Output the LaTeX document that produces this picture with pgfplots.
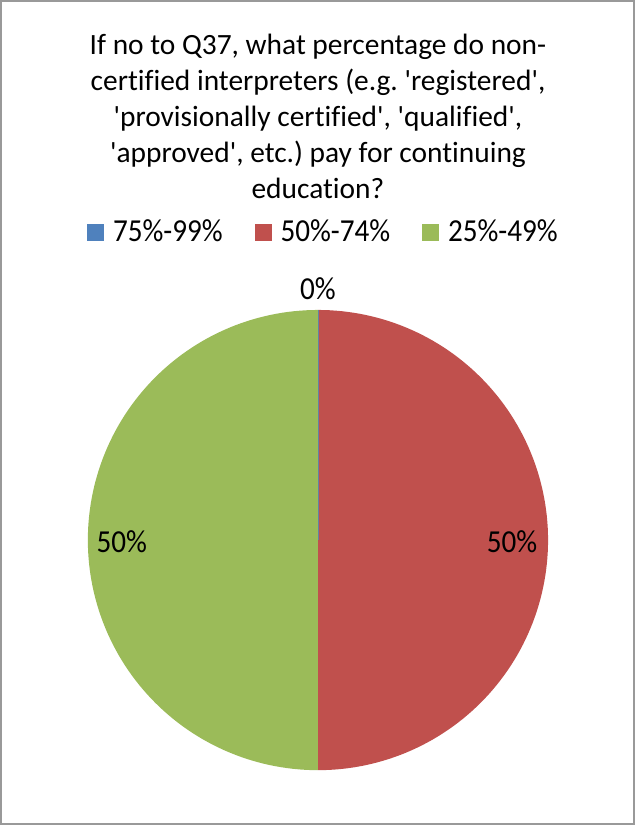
\documentclass[border=0pt]{standalone}
\usepackage{pgfplots}
\usepackage{pgfplotstable}
\usepackage{fontspec}
\setmainfont{Carlito}[FakeStretch=0.91]
\newfontfamily\titlefont{Carlito}[Ligatures={NoCommon}]
\frenchspacing
\pgfplotsset{compat=1.18}
\definecolor{sBlue}{HTML}{4F81BD}
\definecolor{sRed}{HTML}{C0504D}
\definecolor{sGreen}{HTML}{9BBB59}
\newcommand{\q}{\textquotesingle}
\pgfplotstableread{
idx value
0 0
1 50
2 50
}\piedata
\begin{document}
\begin{tikzpicture}
\pgfplotstablegetelem{0}{value}\of\piedata \let\vA\pgfplotsretval
\pgfplotstablegetelem{1}{value}\of\piedata \let\vB\pgfplotsretval
\pgfplotstablegetelem{2}{value}\of\piedata \let\vC\pgfplotsretval
\pgfmathsetmacro{\tot}{\vA+\vB+\vC}
\pgfmathsetmacro{\aA}{0}
\pgfmathsetmacro{\aB}{\aA+\vA/\tot*360}
\pgfmathsetmacro{\aC}{\aB+\vB/\tot*360}
\pgfmathsetmacro{\aD}{\aC+\vC/\tot*360}
\begin{axis}[
  scale only axis, width=317.5pt, height=412.5pt,
  xmin=0, xmax=635, ymin=0, ymax=825, y dir=reverse,
  hide axis, clip=false,
  legend columns=3,
  legend style={at={(axis cs:322.5,232)}, anchor=center, draw=none, fill=none,
    font=\fontsize{16}{18}\selectfont,
    nodes={inner xsep=0pt, inner ysep=1pt},
    /tikz/every odd column/.append style={column sep=4.5pt},
    /tikz/every even column/.append style={column sep=16pt},
    inner sep=0pt},
  legend image code/.code={\fill[#1] (0pt,-4pt) rectangle (8pt,4pt);},
]
\addlegendimage{sBlue}\addlegendentry{75\%-99\%}
\addlegendimage{sRed}\addlegendentry{50\%-74\%}
\addlegendimage{sGreen}\addlegendentry{25\%-49\%}
\addplot[fill=sRed, draw=none, domain=\aB:\aC, samples=121, variable=\t, forget plot]
  ({318+230*sin(\t)}, {540-230*cos(\t)}) -- (axis cs:318,540) -- cycle;
\addplot[fill=sGreen, draw=none, domain=\aC:\aD, samples=121, variable=\t, forget plot]
  ({318+230*sin(\t)}, {540-230*cos(\t)}) -- (axis cs:318,540) -- cycle;
\addplot[sBlue!60!gray, line width=0.3pt, forget plot] coordinates {(318,540) (318,310)};
\node[font=\titlefont\fontsize{14.7}{18}\selectfont, align=center] at (axis cs:318,117)
  {If no to Q37, what percentage do non-\\certified interpreters (e.g. \q registered\q,\\\q provisionally certified\q, \q qualified\q,\\\q approved\q, etc.) pay for continuing\\education?};
\node[font=\fontsize{16}{18}\selectfont] at (axis cs:318,289) {0\%};
\node[font=\fontsize{16}{18}\selectfont] at (axis cs:512,542) {50\%};
\node[font=\fontsize{16}{18}\selectfont] at (axis cs:122,542) {50\%};
\draw[gray!80, line width=0.8pt] (axis cs:1,1) rectangle (axis cs:634,824);
\end{axis}
\end{tikzpicture}
\end{document}
